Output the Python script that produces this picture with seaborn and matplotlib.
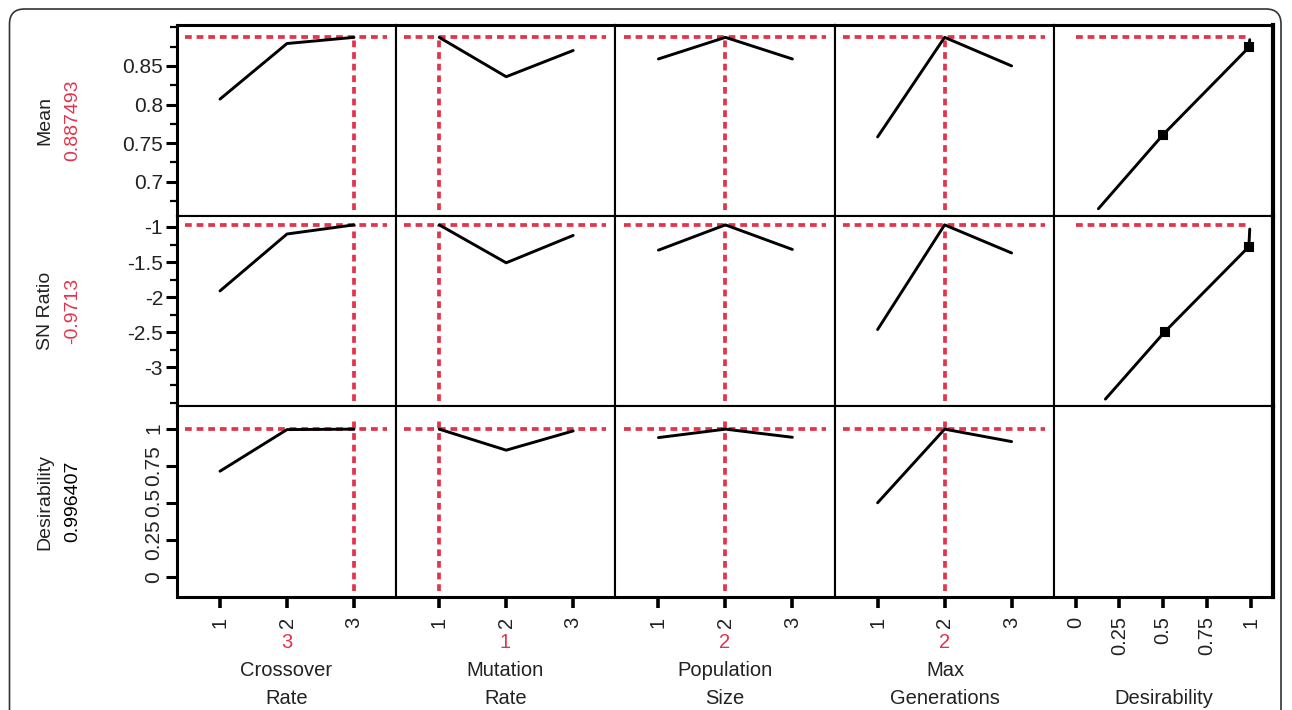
import numpy as np
import pandas as pd
import matplotlib
matplotlib.use("Agg")
import matplotlib.pyplot as plt
import seaborn as sns
from matplotlib.patches import FancyBboxPatch
from matplotlib.ticker import FixedLocator, MultipleLocator

# ---------------- data ----------------
factors = ["Crossover\nRate", "Mutation\nRate", "Population\nSize", "Max\nGenerations"]
levels = [1, 2, 3]
current_levels = [3, 1, 2, 2]
responses = ["Mean", "SN Ratio", "Desirability"]
current_labels = ["0.887493", "-0.9713", "0.996407"]
current_values = [0.887493, -0.9713, 0.996407]

mean_crossover = [0.807, 0.879, 0.887]
mean_mutation = [0.887, 0.836, 0.870]
mean_population = [0.859, 0.887, 0.859]
mean_maxgen = [0.758, 0.887, 0.850]

sn_crossover = [-1.91, -1.10, -0.97]
sn_mutation = [-0.97, -1.51, -1.12]
sn_population = [-1.33, -0.97, -1.32]
sn_maxgen = [-2.46, -0.97, -1.37]

des_crossover = [0.712, 0.993, 0.996]
des_mutation = [0.996, 0.854, 0.984]
des_population = [0.939, 0.996, 0.941]
des_maxgen = [0.499, 0.996, 0.912]

# desirability function curves (response vs desirability)
mean_des_x = [0.13, 0.50, 0.99, 0.995]
mean_des_y = [0.665, 0.761, 0.874, 0.884]
sn_des_x = [0.17, 0.51, 0.99, 0.995]
sn_des_y = [-3.45, -2.49, -1.28, -1.03]
des_marker_idx = [1, 2]

desir_ticks = [0, 0.25, 0.5, 0.75, 1]
desir_ticklabels = ["0", "0.25", "0.5", "0.75", "1"]
ytick_values = [[0.7, 0.75, 0.8, 0.85], [-3, -2.5, -2, -1.5, -1], [0, 0.25, 0.5, 0.75, 1]]
ytick_labels = [["0.7", "0.75", "0.8", "0.85"], ["-3", "-2.5", "-2", "-1.5", "-1"],
                ["0", "0.25", "0.5", "0.75", "1"]]

profiles = {
    "Mean": [mean_crossover, mean_mutation, mean_population, mean_maxgen],
    "SN Ratio": [sn_crossover, sn_mutation, sn_population, sn_maxgen],
    "Desirability": [des_crossover, des_mutation, des_population, des_maxgen],
}
rows = []
for resp, series in profiles.items():
    for fac, vals in zip(factors, series):
        for lv, v in zip(levels, vals):
            rows.append({"response": resp, "factor": fac, "level": lv, "value": v})
df = pd.DataFrame(rows)

des_df = pd.DataFrame({
    "response": ["Mean"] * len(mean_des_x) + ["SN Ratio"] * len(sn_des_x),
    "d": mean_des_x + sn_des_x,
    "value": mean_des_y + sn_des_y,
})

# ---------------- style ----------------
sns.set_style("white")
plt.rcParams["font.family"] = ["Liberation Sans", "DejaVu Sans"]
RED = "#E2344C"
TXT = "#222222"
W, H = 1292, 710
fig, axes = plt.subplots(3, 5, figsize=(W / 100, H / 100), dpi=100,
                         gridspec_kw=dict(wspace=0, hspace=0))
fig.subplots_adjust(left=177 / W, right=1273 / W, top=1 - 25 / H, bottom=1 - 597 / H)

ylims = [(0.656, 0.903), (-3.553, -0.839), (-0.137, 1.15)]
minor_steps = [0.025, 0.25, None]
vline_tops = [current_values[0], current_values[1], 1.05]
DASH = (0, (1.8, 1.3))

for r, resp in enumerate(responses):
    for c in range(5):
        ax = axes[r, c]
        ax.set_ylim(*ylims[r])
        ylo, yhi = ylims[r]
        if c < 4:
            ax.set_xlim(0.358, 3.63)
            sub = df[(df.response == resp) & (df.factor == factors[c])]
            sns.lineplot(data=sub, x="level", y="value", ax=ax, color="black",
                         lw=2.1, zorder=3, estimator=None, sort=False)
            ax.axhline(current_values[r], xmin=0.037, xmax=0.959, color=RED,
                       lw=2.7, linestyle=DASH, zorder=1)
            ax.vlines(current_levels[c], ylo + 0.03 * (yhi - ylo), vline_tops[r],
                      color=RED, lw=2.7, linestyles=[DASH], zorder=1)
            ax.xaxis.set_major_locator(FixedLocator(levels))
            ax.set_xticklabels([str(l) for l in levels])
        else:
            ax.set_xlim(-0.125, 1.128)
            if r < 2:
                sub = des_df[des_df.response == resp]
                sns.lineplot(data=sub, x="d", y="value", ax=ax, color="black",
                             lw=2.1, zorder=3, estimator=None, sort=False)
                mk = sub.iloc[des_marker_idx]
                ax.plot(mk["d"], mk["value"], ls="none", marker="s", ms=6,
                        mfc="black", mec="black", mew=1.5, zorder=4)
                ax.hlines(current_values[r], 0, 0.99, color=RED, lw=2.7,
                          linestyles=[DASH], zorder=1)
            ax.xaxis.set_major_locator(FixedLocator(desir_ticks))
            ax.set_xticklabels(desir_ticklabels)
        ax.set_xlabel("")
        ax.set_ylabel("")
        ax.yaxis.set_major_locator(FixedLocator(ytick_values[r]))
        ax.set_yticklabels(ytick_labels[r])
        if minor_steps[r]:
            ax.yaxis.set_minor_locator(MultipleLocator(minor_steps[r]))
        for sp in ax.spines.values():
            sp.set_color("black")
            sp.set_linewidth(1.5)
            sp.set_visible(True)
        if c == 0:
            ax.spines["left"].set_linewidth(2.2)
        if c == 4:
            ax.spines["right"].set_linewidth(3.0)
        if r == 0:
            ax.spines["top"].set_linewidth(2.2)
        if r == 2:
            ax.spines["bottom"].set_linewidth(2.2)
        # y ticks
        if c == 0:
            ax.tick_params(axis="y", which="major", left=True, length=8, width=2.2,
                           direction="out", labelsize=15, labelcolor=TXT, pad=2,
                           color="black")
            ax.tick_params(axis="y", which="minor", left=True, length=5, width=1.6,
                           direction="out", color="black")
            if r == 2:
                for lab in ax.get_yticklabels():
                    lab.set_rotation(90)
                    lab.set_va("center")
        else:
            ax.tick_params(axis="y", which="both", left=False, labelleft=False)
        # x ticks
        if r == 2:
            ax.tick_params(axis="x", which="major", bottom=True, length=8, width=2.6,
                           direction="out", labelsize=14.5, labelcolor=TXT, pad=6,
                           labelrotation=90, color="black")
        else:
            ax.tick_params(axis="x", which="both", bottom=False, labelbottom=False)

# ---------------- outer labels ----------------
row_centers = [(25 + 216) / 2, (216 + 406) / 2, (406 + 597) / 2]
cur_colors = [RED, RED, "black"]
for r in range(3):
    fig.text(45 / W, 1 - row_centers[r] / H, responses[r], rotation=90,
             ha="center", va="center", fontsize=14, color=TXT)
    fig.text(73 / W, 1 - row_centers[r] / H, current_labels[r], rotation=90,
             ha="center", va="center", fontsize=14, color=cur_colors[r])

col_edges = [177, 396, 615, 835, 1055, 1273]
for c in range(4):
    cx = (col_edges[c] + col_edges[c + 1]) / 2 / W
    fig.text(cx, 1 - 642 / H, str(current_levels[c]), ha="center", va="center",
             fontsize=14.5, color=RED)
    l1, l2 = factors[c].split("\n")
    fig.text(cx, 1 - 671 / H, l1, ha="center", va="center", fontsize=14.5, color=TXT)
    fig.text(cx, 1 - 698 / H, l2, ha="center", va="center", fontsize=14.5, color=TXT)
cx = (col_edges[4] + col_edges[5]) / 2 / W
fig.text(cx, 1 - 698 / H, "Desirability", ha="center", va="center", fontsize=14.5, color=TXT)

# rounded page border
border = FancyBboxPatch((0.095, -0.5), 12.81 - 0.095, 7.01 + 0.5,
                        boxstyle="round,pad=0,rounding_size=0.15",
                        transform=fig.dpi_scale_trans, fill=False,
                        edgecolor="#333333", lw=1.2)
fig.add_artist(border)

fig.savefig("out.png", dpi=100)
